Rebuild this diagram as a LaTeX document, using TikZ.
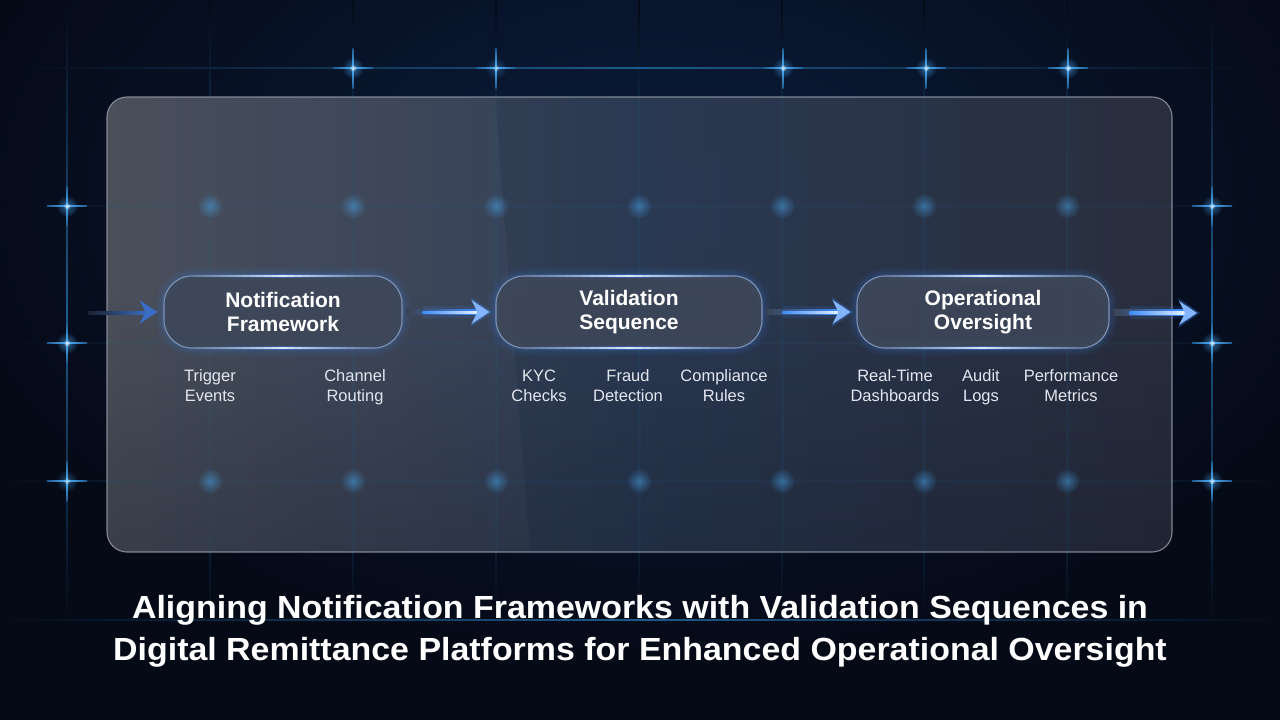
\documentclass[tikz,border=0pt]{standalone}
\usepackage{fontspec}
\setmainfont{Liberation Sans}
\usetikzlibrary{arrows.meta,fadings}
\definecolor{bgA}{HTML}{050A17}
\definecolor{bgB}{HTML}{0B1D3C}
\definecolor{gridC}{HTML}{1E5A8C}
\definecolor{starC}{HTML}{4FB3FF}
\definecolor{panelL}{HTML}{474C57}
\definecolor{panelM}{HTML}{2C3B54}
\definecolor{panelR}{HTML}{2B303F}
\definecolor{panelEdge}{HTML}{9AA0AC}
\definecolor{panelBg}{HTML}{3B4252}
\definecolor{boxFill}{HTML}{3E4759}
\definecolor{boxEdge}{HTML}{7F92B3}
\definecolor{glowC}{HTML}{3D8BFF}
\definecolor{arrowC}{HTML}{4C93FF}
\definecolor{arrowCore}{HTML}{E6F2FF}
\definecolor{arrowDim}{HTML}{3A6CC4}
\definecolor{labelC}{HTML}{E2E6EE}
\tikzfading[name=softdot, inner color=transparent!0, outer color=transparent!100]
\tikzset{
  stagebox/.style={draw=boxEdge, line width=1.1pt, fill=boxFill, fill opacity=0.9, text opacity=1,
    rounded corners=28pt, minimum height=72pt, align=center, text=white,
    font=\bfseries\fontsize{21}{24}\selectfont, inner sep=0pt},
  sublabel/.style={align=center, text=labelC, font=\fontsize{16.5}{19.5}\selectfont, inner sep=0pt, anchor=north},
  titletext/.style={text=white, font=\bfseries\fontsize{32}{42}\selectfont, align=center, inner sep=0pt}
}
\begin{document}
\begin{tikzpicture}[x=1pt,y=-1pt]
\useasboundingbox (0,0) rectangle (1280,720);
% background
\fill[bgA] (0,0) rectangle (1280,720);
\shade[inner color=bgB, outer color=bgA] (660,200) ellipse (720 and 460);
% grid lines
\foreach \x in {67,210,353,496,639,782,924,1067,1212}{
  \shade[top color=bgA, bottom color=bgA, middle color=gridC] (\x-0.5,0) rectangle (\x+0.5,620);
}
\foreach \y in {68,206,343,481,620}{
  \shade[left color=bgA, right color=bgA, middle color=gridC] (0,\y-0.5) rectangle (1280,\y+0.5);
}
% bright stars outside panel
\foreach \sx/\sy/\so in {353/68/1,496/68/0.6,783/68/0.9,926/68/0.9,1068/68/1,67/206/1,1212/206/0.9,67/343/1,1212/343/1,67/481/0.7,1212/481/0.9}{
  \fill[starC, fill opacity=0.55*\so, path fading=softdot] (\sx,\sy) circle (11);
  \shade[left color=gridC, right color=gridC, middle color=starC] (\sx-20,\sy-0.7) rectangle (\sx+20,\sy+0.7);
  \shade[top color=gridC, bottom color=gridC, middle color=starC] (\sx-0.7,\sy-20) rectangle (\sx+0.7,\sy+20);
  \fill[white, fill opacity=0.8*\so, path fading=softdot] (\sx,\sy) circle (3.5);
}
% panel
\path[rounded corners=20pt, left color=panelL, right color=panelR, middle color=panelM, fill opacity=0.96]
  (107,97) rectangle (1172,552);
\begin{scope}
  \clip[rounded corners=20pt] (107,97) rectangle (1172,552);
  \fill[white, fill opacity=0.035] (107,97) -- (495,97) -- (530,552) -- (107,552) -- cycle;
  \fill[bgA, fill opacity=0.25, path fading=north] (107,300) rectangle (1172,552);
  \foreach \x in {210,353,496,639,782,924,1067}{
    \draw[gridC, line width=3pt, draw opacity=0.1] (\x,97) -- (\x,552);
  }
  \foreach \y in {206,343,481}{
    \draw[gridC, line width=3pt, draw opacity=0.08] (107,\y) -- (1172,\y);
  }
  \foreach \x in {210,353,496,639,782,924,1067}{
    \foreach \y in {206,481}{
      \fill[starC, fill opacity=0.45, path fading=softdot] (\x,\y) circle (13);
    }
  }
\end{scope}
\draw[panelEdge, line width=1.1pt, draw opacity=0.8, rounded corners=20pt] (107,97) rectangle (1172,552);
% box glows
\foreach \cx/\w in {283/238, 629/266, 983/252}{
  \foreach \lw/\op in {16/0.05, 10/0.07, 5/0.1}{
    \draw[glowC, line width=\lw pt, draw opacity=\op, rounded corners=30pt]
      ({\cx-\w/2},276) rectangle ({\cx+\w/2},348);
  }
}
% stage boxes
\node[stagebox, minimum width=238pt] (nf) at (283,312) {Notification\\Framework};
\node[stagebox, minimum width=266pt] (vs) at (629,312) {Validation\\Sequence};
\node[stagebox, minimum width=252pt] (oo) at (983,312) {Operational\\Oversight};
% bright edge highlights (soft, built from short segments)
\foreach \cx/\w in {283/238, 629/266, 983/252}{
  \foreach \i in {-12,...,12}{
    \pgfmathsetmacro{\op}{(1-abs(\i)/13)^1.3}
    \pgfmathsetmacro{\sl}{(\w/2-26)/12.5}
    \foreach \yy in {276,348}{
      \draw[glowC, line width=4pt, draw opacity=0.35*\op, line cap=butt] ({\cx+(\i-0.5)*\sl},\yy) -- ({\cx+(\i+0.5)*\sl},\yy);
      \draw[arrowCore, line width=1.3pt, draw opacity=0.9*\op, line cap=butt] ({\cx+(\i-0.5)*\sl},\yy) -- ({\cx+(\i+0.5)*\sl},\yy);
    }
  }
}
% arrows
\coordinate (inStart) at (88,313);
\coordinate (outEnd) at (1197,313);
% incoming dim arrow
\shade[left color=panelBg!40!bgA, right color=arrowDim] ([yshift=2pt]inStart) rectangle ([xshift=-16pt,yshift=-2pt]nf.west);
\fill[arrowDim] ([xshift=-6pt]nf.west) -- ++(-18,-12) -- ++(6,12) -- ++(-6,12) -- cycle;
% bright arrows
\foreach \a/\b in {nf/vs, vs/oo}{
  \fill[glowC, fill opacity=0.12] ([xshift=20pt,yshift=6pt]\a.east) rectangle ([xshift=-12pt,yshift=-6pt]\b.west);
  \shade[left color=panelBg, right color=glowC] ([xshift=4pt,yshift=2.5pt]\a.east) rectangle ([xshift=-18pt,yshift=-2.5pt]\b.west);
  \shade[left color=glowC, right color=arrowCore] ([xshift=20pt,yshift=1pt]\a.east) rectangle ([xshift=-18pt,yshift=-1pt]\b.west);
  \fill[glowC, fill opacity=0.3] ([xshift=-3pt]\b.west) -- ++(-22,-15) -- ++(7,15) -- ++(-7,15) -- cycle;
  \fill[arrowC!70!white] ([xshift=-6pt]\b.west) -- ++(-18,-12) -- ++(6,12) -- ++(-6,12) -- cycle;
}
\fill[glowC, fill opacity=0.12] ([xshift=20pt,yshift=6pt]oo.east) rectangle ([xshift=-6pt,yshift=-6pt]outEnd);
\shade[left color=panelBg, right color=glowC] ([xshift=4pt,yshift=2.5pt]oo.east) rectangle ([xshift=-12pt,yshift=-2.5pt]outEnd);
\shade[left color=glowC, right color=arrowCore] ([xshift=20pt,yshift=1pt]oo.east) rectangle ([xshift=-12pt,yshift=-1pt]outEnd);
\fill[glowC, fill opacity=0.3] ([xshift=3pt]outEnd) -- ++(-22,-15) -- ++(7,15) -- ++(-7,15) -- cycle;
\fill[arrowC!70!white] (outEnd) -- ++(-18,-12) -- ++(6,12) -- ++(-6,12) -- cycle;
% sub labels
\node[sublabel] (te) at (210,368) {\strut Trigger\\Events};
\node[sublabel] (cr) at (355,368) {\strut Channel\\Routing};
\node[sublabel] (kyc) at (539,368) {\strut KYC\\Checks};
\node[sublabel] (fd) at (628,368) {\strut Fraud\\Detection};
\node[sublabel] (cru) at (724,368) {\strut Compliance\\Rules};
\node[sublabel] (rtd) at (895,368) {\strut Real-Time\\Dashboards};
\node[sublabel] (al) at (981,368) {\strut Audit\\Logs};
\node[sublabel] (pm) at (1071,368) {\strut Performance\\Metrics};
% title
\node[titletext] (title) at (640,631) {\scalebox{1.06}[1]{Aligning Notification Frameworks with Validation Sequences in}\\\scalebox{1.06}[1]{Digital Remittance Platforms for Enhanced Operational Oversight}};
\end{tikzpicture}
\end{document}
